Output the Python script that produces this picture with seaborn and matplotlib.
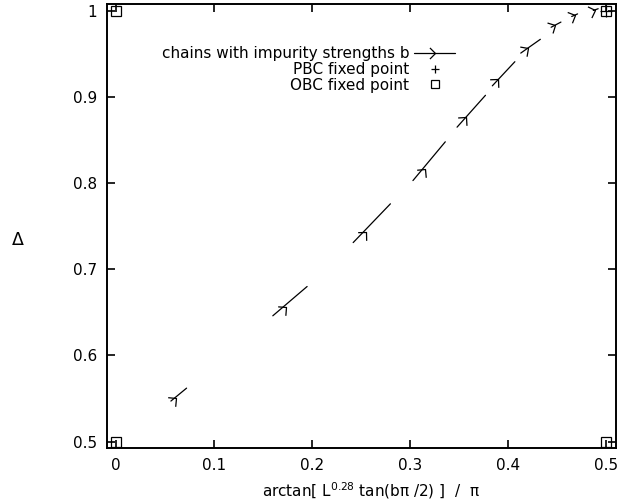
import numpy as np
import pandas as pd
import seaborn as sns
import matplotlib
matplotlib.use("Agg")
import matplotlib.pyplot as plt
from matplotlib.path import Path
from matplotlib.markers import MarkerStyle
from matplotlib.transforms import Affine2D
from matplotlib.lines import Line2D

# === DATA ===
# one short segment per impurity strength b, with an arrow head on it
seg_x0 = [0.056, 0.160, 0.242, 0.303, 0.348, 0.384, 0.413, 0.444, 0.465, 0.487]
seg_x1 = [0.072, 0.195, 0.280, 0.336, 0.377, 0.407, 0.433, 0.454, 0.471, 0.492]
seg_y0 = [0.547, 0.646, 0.731, 0.803, 0.865, 0.913, 0.951, 0.981, 0.9935, 1.0005]
seg_y1 = [0.562, 0.680, 0.776, 0.848, 0.902, 0.941, 0.967, 0.987, 0.9965, 1.0025]
arrow_x = [0.0615, 0.173, 0.255, 0.315, 0.357, 0.390, 0.420, 0.448, 0.468, 0.489]
arrow_y = [0.550, 0.656, 0.743, 0.817, 0.877, 0.921, 0.957, 0.984, 0.995, 1.0015]

pbc_x = [0.5]
pbc_y = [1.0]
obc_x = [0.0, 0.5, 0.0, 0.5]
obc_y = [0.5, 0.5, 1.0, 1.0]

x_ticks = [0, 0.1, 0.2, 0.3, 0.4, 0.5]
y_ticks = [0.5, 0.6, 0.7, 0.8, 0.9, 1.0]

sns.set_style("ticks")
plt.rcParams['font.family'] = ['DejaVu Sans']
plt.rcParams['mathtext.fontset'] = 'dejavusans'
plt.rcParams['text.color'] = 'black'
plt.rcParams['axes.labelcolor'] = 'black'

FS = 11

fig = plt.figure(figsize=(6.18, 5.04), dpi=100)
ax = fig.add_axes([107 / 618, 56 / 504, 509 / 618, 444 / 504])
ax.set_xlim(-0.0092, 0.5102)
ax.set_ylim(0.4925, 1.008)

# segments
rows = []
for i in range(len(seg_x0)):
    rows.append({'b': i, 'x': seg_x0[i], 'y': seg_y0[i]})
    rows.append({'b': i, 'x': seg_x1[i], 'y': seg_y1[i]})
df = pd.DataFrame(rows)
sns.lineplot(data=df, x='x', y='y', units='b', estimator=None, sort=False,
             color='black', lw=0.9, legend=False, ax=ax)

# arrow heads, turned along each segment
chevron = Path([(-1, 1), (0, 0), (-1, -1)],
               [Path.MOVETO, Path.LINETO, Path.LINETO])
for i in range(len(arrow_x)):
    p0 = ax.transData.transform((seg_x0[i], seg_y0[i]))
    p1 = ax.transData.transform((seg_x1[i], seg_y1[i]))
    ang = np.degrees(np.arctan2(p1[1] - p0[1], p1[0] - p0[0]))
    m = MarkerStyle(chevron, transform=Affine2D().rotate_deg(ang))
    ax.plot([arrow_x[i]], [arrow_y[i]], ls='none', marker=m, ms=8.5,
            mfc='none', mec='black', mew=0.9)

# fixed points
ax.plot(pbc_x, pbc_y, ls='none', marker='+', ms=8, mec='black', mew=0.9)
ax.plot(obc_x, obc_y, ls='none', marker='s', ms=7, mfc='none', mec='black',
        mew=0.9)

# axes styling
for s in ax.spines.values():
    s.set_linewidth(1.4)
    s.set_color('black')
ax.set_xticks(x_ticks)
ax.set_yticks(y_ticks)
ax.set_xticklabels([f"{v:g}" for v in x_ticks])
ax.set_yticklabels([f"{v:g}" for v in y_ticks])
ax.tick_params(direction='in', top=True, right=True, length=6, width=1.2,
               labelsize=FS, colors='black', pad=7)

ax.set_xlabel(r"arctan[ L$^{0.28}$ tan(bπ /2) ]  /  π", fontsize=FS)
ax.xaxis.set_label_coords(0.519, -0.072)
ax.set_ylabel("Δ", rotation=0, fontsize=12.5, va='center')
ax.yaxis.set_label_coords(-0.175, 0.468)

# legend, gnuplot style: text right aligned, sample on the right
chev_leg = MarkerStyle(chevron)
handles = [
    Line2D([], [], color='black', lw=0.9, marker=chev_leg, ms=8,
           mfc='none', mec='black', mew=0.9),
    Line2D([], [], ls='none', marker='+', ms=6, mec='black', mew=0.9),
    Line2D([], [], ls='none', marker='s', ms=6, mfc='none', mec='black',
           mew=0.9),
]
labels = ["chains with impurity strengths b", "PBC fixed point",
          "OBC fixed point"]
leg = ax.legend(handles, labels, loc='upper right',
                bbox_to_anchor=(0.684, 0.905), frameon=False,
                markerfirst=False, fontsize=FS, handlelength=2.7,
                handletextpad=0.3, labelspacing=0.05, borderpad=0,
                borderaxespad=0, numpoints=1)
for t in leg.get_texts():
    t.set_color('black')

fig.savefig("out.png", dpi=100)
